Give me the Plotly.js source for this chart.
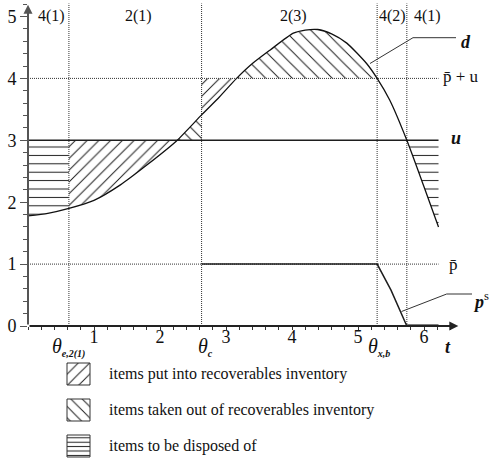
<!DOCTYPE html>
<html>
<head>
<meta charset="utf-8">
<script src="https://cdn.plot.ly/plotly-3.0.1.min.js"></script>
<style>
  html, body { margin: 0; padding: 0; background: #fff; }
  #chart { width: 493px; height: 465px; }
</style>
</head>
<body>
<div id="chart"></div>
<script>
// Demand curve d(t)
const tD = [0, 0.3, 0.62, 1.0, 1.4, 1.8, 2.25, 2.63, 2.9, 3.16, 3.4, 3.67, 4.02, 4.2, 4.39, 4.6, 4.83, 5.13, 5.29, 5.48, 5.74, 6.0, 6.22];
const dD = [1.78, 1.82, 1.90, 2.03, 2.28, 2.60, 2.99, 3.41, 3.70, 4.00, 4.24, 4.46, 4.73, 4.78, 4.79, 4.72, 4.57, 4.24, 4.00, 3.65, 3.00, 2.25, 1.60];

// Capacity levels
const U = 3;          // u
const P_BAR = 1;      // p-bar
const P_BAR_U = 4;    // p-bar + u

// Switching epochs
const thetaE = 0.62;   // theta_e,2(1)
const thetaC = 2.63;   // theta_c
const thetaXB = 5.29;  // theta_x,b
const thetaEnd = 5.74; // end of phase 4(2)
const epochs = [thetaE, thetaC, thetaXB, thetaEnd];
const tEnd = 6.22;

// Production policy p^s
const tPs = [2.63, 5.29, 5.5, 5.74, 6.22];
const pPs = [1, 1, 0.58, 0, 0];

// Phase labels along the top
const phaseLabels = ['4(1)', '2(1)', '2(3)', '4(2)', '4(1)'];
const phaseT = [0.36, 1.67, 4.02, 5.52, 6.05];

// Axis ticks
const xTickVals = [0, 1, 2, 3, 4, 5, 6];
const xTickText = ['', '1', '2', '3', '4', '5', '6'];
const yTickVals = [0, 1, 2, 3, 4, 5];
const yTickText = ['0', '1', '2', '3', '4', '5'];

// Legend entries
const legendTexts = [
  'items put into recoverables inventory',
  'items taken out of recoverables inventory',
  'items to be disposed of'
];

// ---- helpers ----
function dAt(t) {
  for (let i = 0; i < tD.length - 1; i++) {
    if (t >= tD[i] && t <= tD[i + 1]) {
      const f = (t - tD[i]) / (tD[i + 1] - tD[i]);
      return dD[i] + f * (dD[i + 1] - dD[i]);
    }
  }
  return dD[dD.length - 1];
}
// first t in [lo, hi] where d crosses the level
function crossing(level, lo, hi) {
  for (let i = 0; i < tD.length - 1; i++) {
    const a = dD[i] - level, b = dD[i + 1] - level;
    if (tD[i + 1] < lo || tD[i] > hi) continue;
    if (a === 0) return tD[i];
    if (a * b < 0) return tD[i] + (tD[i + 1] - tD[i]) * a / (a - b);
  }
  return hi;
}
// polygon between the demand curve and a horizontal level over [t0, t1]
function band(t0, t1, level) {
  const x = [t0], y = [dAt(t0)];
  tD.forEach((t, i) => { if (t > t0 && t < t1) { x.push(t); y.push(dD[i]); } });
  x.push(t1, t1, t0, t0); y.push(dAt(t1), level, level, dAt(t0));
  return { x, y };
}

const tU1 = crossing(U, 1.5, 2.6);        // d meets u (rising)
const tPU1 = crossing(P_BAR_U, 2.7, 3.6); // d meets p-bar + u (rising)
const tU2 = crossing(U, 5.5, 6.1);        // d meets u (falling)

const INK = '#1e1e1e';
const FONT = '"Liberation Serif", "Times New Roman", serif';

function hatch(poly, shape, size, axes) {
  return Object.assign({
    x: poly.x, y: poly.y, mode: 'none', fill: 'toself',
    fillcolor: 'rgba(0,0,0,0)', hoverinfo: 'skip',
    fillpattern: { shape: shape, size: size, solidity: 1 / size, fgcolor: INK, fillmode: 'replace' }
  }, axes || {});
}

const traces = [];
// disposal, put-in and take-out areas
traces.push(hatch(band(0, thetaE, U), '-', 8.4));
traces.push(hatch(band(thetaE, tU1, U), '/', 8.3));
traces.push(hatch(band(thetaC, tPU1, P_BAR_U), '/', 8.3));
traces.push(hatch(band(tU1, thetaC, U), '\\', 8.3));
traces.push(hatch(band(tPU1, thetaXB, P_BAR_U), '\\', 9.4));
traces.push(hatch(band(tU2, tEnd, U), '-', 8.4));

const dotted = { color: '#333', width: 1, dash: '1px,1px' };
// horizontal reference levels
traces.push({ x: [0, tEnd], y: [P_BAR_U, P_BAR_U], mode: 'lines', line: dotted, hoverinfo: 'skip' });
traces.push({ x: [0, tEnd], y: [P_BAR, P_BAR], mode: 'lines', line: dotted, hoverinfo: 'skip' });
// epoch markers
epochs.forEach(e => traces.push({ x: [e, e], y: [0, 5.21], mode: 'lines', line: dotted, hoverinfo: 'skip' }));
// u
traces.push({ x: [0, tEnd], y: [U, U], mode: 'lines', line: { color: INK, width: 1.6 }, hoverinfo: 'skip' });
// demand
traces.push({ x: tD, y: dD, mode: 'lines', line: { color: '#111', width: 1.3, shape: 'spline', smoothing: 0.6 }, hoverinfo: 'skip' });
// production
traces.push({ x: tPs.slice(0, 4), y: pPs.slice(0, 4), mode: 'lines', line: { color: INK, width: 1.5 }, hoverinfo: 'skip' });
traces.push({ x: tPs.slice(3), y: pPs.slice(3), mode: 'lines', line: { color: '#000', width: 3 }, hoverinfo: 'skip' });

// overlay axes in pixel units for callouts and the legend
const ov = { xaxis: 'x2', yaxis: 'y2' };
const callout = { color: '#333', width: 1 };
traces.push(Object.assign({ x: [370, 413, 456], y: [63.5, 37.7, 37.7], mode: 'lines', line: callout, hoverinfo: 'skip' }, ov));
traces.push(Object.assign({ x: [401.5, 446.7, 472], y: [311.5, 294, 294], mode: 'lines', line: callout, hoverinfo: 'skip' }, ov));

const swShapes = ['/', '\\', '-'];
const swSizes = [8, 8, 4.4];
const swX = 67, swW = 23, swTop = 363, swStep = 36, swH = 22;
swShapes.forEach((s, i) => {
  const y0 = swTop + i * swStep, y1 = y0 + swH;
  const box = { x: [swX, swX + swW, swX + swW, swX, swX], y: [y0, y0, y1, y1, y0] };
  traces.push(hatch(box, s, swSizes[i], ov));
  traces.push(Object.assign({ x: box.x, y: box.y, mode: 'lines', line: { color: '#333', width: 1 }, hoverinfo: 'skip' }, ov));
});

const annotations = [];
// axis arrows
annotations.push({ xref: 'x', yref: 'y', axref: 'x', ayref: 'y', x: 0, y: 5.19, ax: 0, ay: 0, text: '',
  showarrow: true, arrowhead: 2, arrowsize: 0.9, arrowwidth: 2, arrowcolor: '#555' });
annotations.push({ xref: 'x', yref: 'y', axref: 'x', ayref: 'y', x: 6.52, y: 0, ax: 0, ay: 0, text: '',
  showarrow: true, arrowhead: 2, arrowsize: 0.9, arrowwidth: 2, arrowcolor: '#222' });

phaseLabels.forEach((p, i) => annotations.push({ xref: 'x', yref: 'y2', x: phaseT[i], y: 16, text: p,
  showarrow: false, font: { family: FONT, size: 16, color: '#111' } }));

const sub = s => '<sub><span style="font-size:10px"><b><i>' + s + '</i></b></span></sub>';
const thetaLabels = [
  { t: thetaE, s: 'e,2(1)', dx: 0 },
  { t: thetaC, s: 'c', dx: 4 },
  { t: thetaXB, s: 'x,b', dx: 2 }
];
thetaLabels.forEach(o => annotations.push({ xref: 'x', yref: 'y2', x: o.t, y: 347, xshift: o.dx,
  text: '<i>θ</i>' + sub(o.s), showarrow: false, font: { family: FONT, size: 20, color: '#111' } }));

const txt = (x, y, text, size, anchor) => ({ xref: 'x2', yref: 'y2', x, y, text, showarrow: false,
  xanchor: anchor || 'center', font: { family: FONT, size: size, color: '#111' } });
annotations.push(txt(448, 347, '<b><i>t</i></b>', 18));
annotations.push(txt(466, 42, '<b><i>d</i></b>', 18));
annotations.push(txt(461, 76, 'p\u0304 + u', 17));
annotations.push(txt(456, 138, '<b><i>u</i></b>', 18));
annotations.push(txt(453, 264, 'p\u0304', 17));
annotations.push(txt(481, 300, '<b><i>p</i></b><sup>s</sup>', 18));

legendTexts.forEach((s, i) => annotations.push(txt(107, swTop + i * swStep + swH / 2, s, 16, 'left')));

const W = 493, H = 465;
const x0px = 28, pxPerT = 66, y0px = 326, pxPerY = 61.9;
const xMax = 6.52;

const layout = {
  width: W, height: H,
  margin: { l: 0, r: 0, t: 0, b: 0 },
  paper_bgcolor: '#fff', plot_bgcolor: 'rgba(0,0,0,0)',
  showlegend: false,
  font: { family: FONT, color: '#111' },
  xaxis: {
    domain: [x0px / W, (x0px + xMax * pxPerT) / W], range: [0, xMax],
    showgrid: false, zeroline: false, showline: false,
    ticks: 'outside', ticklen: 3, tickwidth: 1, tickcolor: '#333',
    tickmode: 'array', tickvals: xTickVals, ticktext: xTickText,
    tickfont: { family: FONT, size: 18, color: '#111' },
    ticklabelstandoff: -9,
    minor: { tickmode: 'linear', tick0: 0, dtick: 0.2, ticks: 'outside', ticklen: 3, tickwidth: 1, tickcolor: '#333', showgrid: false },
    fixedrange: true
  },
  yaxis: {
    domain: [(H - y0px) / H, 1], range: [0, y0px / pxPerY],
    showgrid: false, zeroline: false, showline: false,
    ticks: 'outside', ticklen: 7, tickwidth: 1, tickcolor: '#555',
    tickmode: 'array', tickvals: yTickVals, ticktext: yTickText,
    tickfont: { family: FONT, size: 18, color: '#111' },
    minor: { tickmode: 'linear', tick0: 0, dtick: 0.2, ticks: 'outside', ticklen: 4, tickwidth: 1, tickcolor: '#555', showgrid: false },
    fixedrange: true
  },
  xaxis2: { domain: [0, 1], range: [0, W], visible: false, anchor: 'y2', fixedrange: true },
  yaxis2: { domain: [0, 1], range: [H, 0], visible: false, anchor: 'x2', fixedrange: true },
  annotations: annotations
};

Plotly.newPlot('chart', traces, layout, { displayModeBar: false, staticPlot: true });
</script>
</body>
</html>
